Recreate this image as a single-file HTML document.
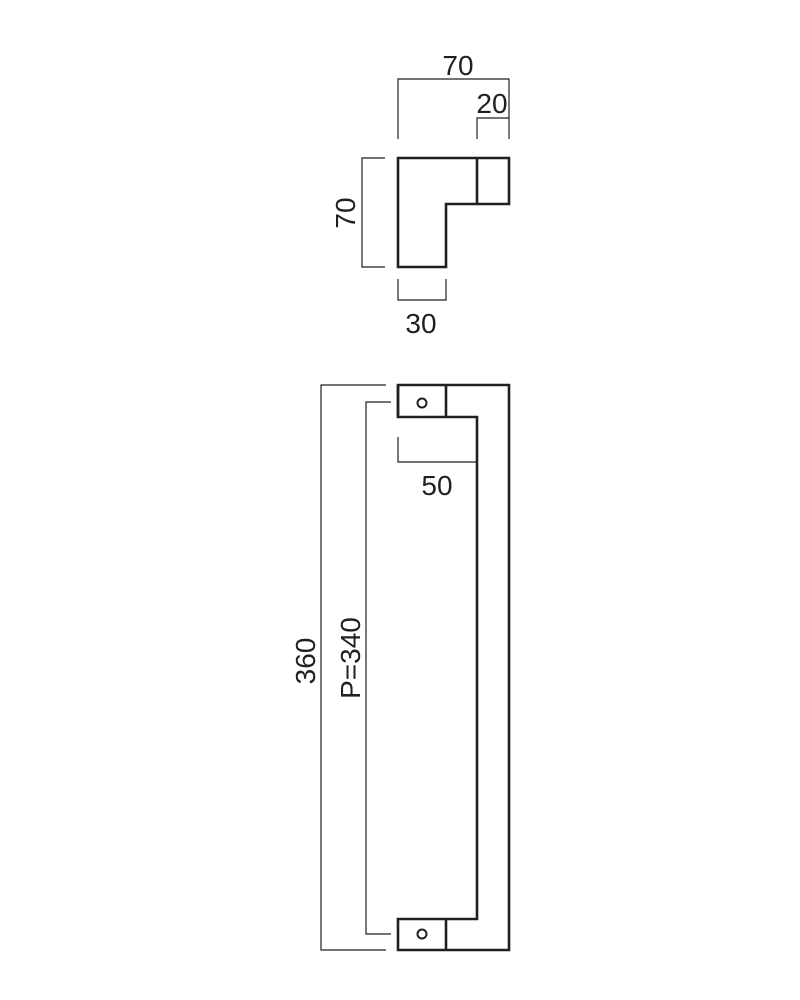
<!DOCTYPE html>
<html><head><style>html,body{margin:0;padding:0;background:#fff;width:800px;height:1000px;overflow:hidden}</style></head>
<body>
<svg width="800" height="1000" viewBox="0 0 800 1000" xmlns="http://www.w3.org/2000/svg">
<g fill="none" stroke="#231f20" stroke-width="1.2">
<!-- top view dims -->
<polyline points="398,139 398,79 509,79 509,139"/>
<polyline points="477,139 477,118 509,118"/>
<polyline points="385,158 362,158 362,267 385,267"/>
<polyline points="398,279 398,300 446,300 446,279"/>
<!-- handle dims -->
<polyline points="386,385 321,385 321,950 386,950"/>
<polyline points="391,402 366,402 366,934 391,934"/>
<polyline points="398,437 398,462 477,462"/>
</g>
<g fill="none" stroke="#231f20" stroke-width="2.6">
<polygon points="398,158 509,158 509,204 446,204 446,267 398,267"/>
<line x1="477" y1="158" x2="477" y2="204"/>
<polygon points="398,385 509,385 509,950 398,950 398,919 477,919 477,417 398,417"/>
<line x1="446" y1="385" x2="446" y2="417"/>
<line x1="398" y1="417" x2="398" y2="385"/>
<line x1="446" y1="919" x2="446" y2="950"/>
<circle cx="422" cy="403" r="4.5" stroke-width="2"/>
<circle cx="422" cy="934" r="4.5" stroke-width="2"/>
</g>
<g font-family="Liberation Sans, sans-serif" font-size="28" fill="#231f20" text-anchor="middle">
<text x="458" y="75">70</text>
<text x="492" y="113">20</text>
<text x="421" y="333">30</text>
<text x="437" y="495">50</text>
<text transform="translate(355,213) rotate(-90)">70</text>
<text transform="translate(315,661) rotate(-90)">360</text>
<text transform="translate(360,658) rotate(-90)">P=340</text>
</g>
</svg>
</body></html>
